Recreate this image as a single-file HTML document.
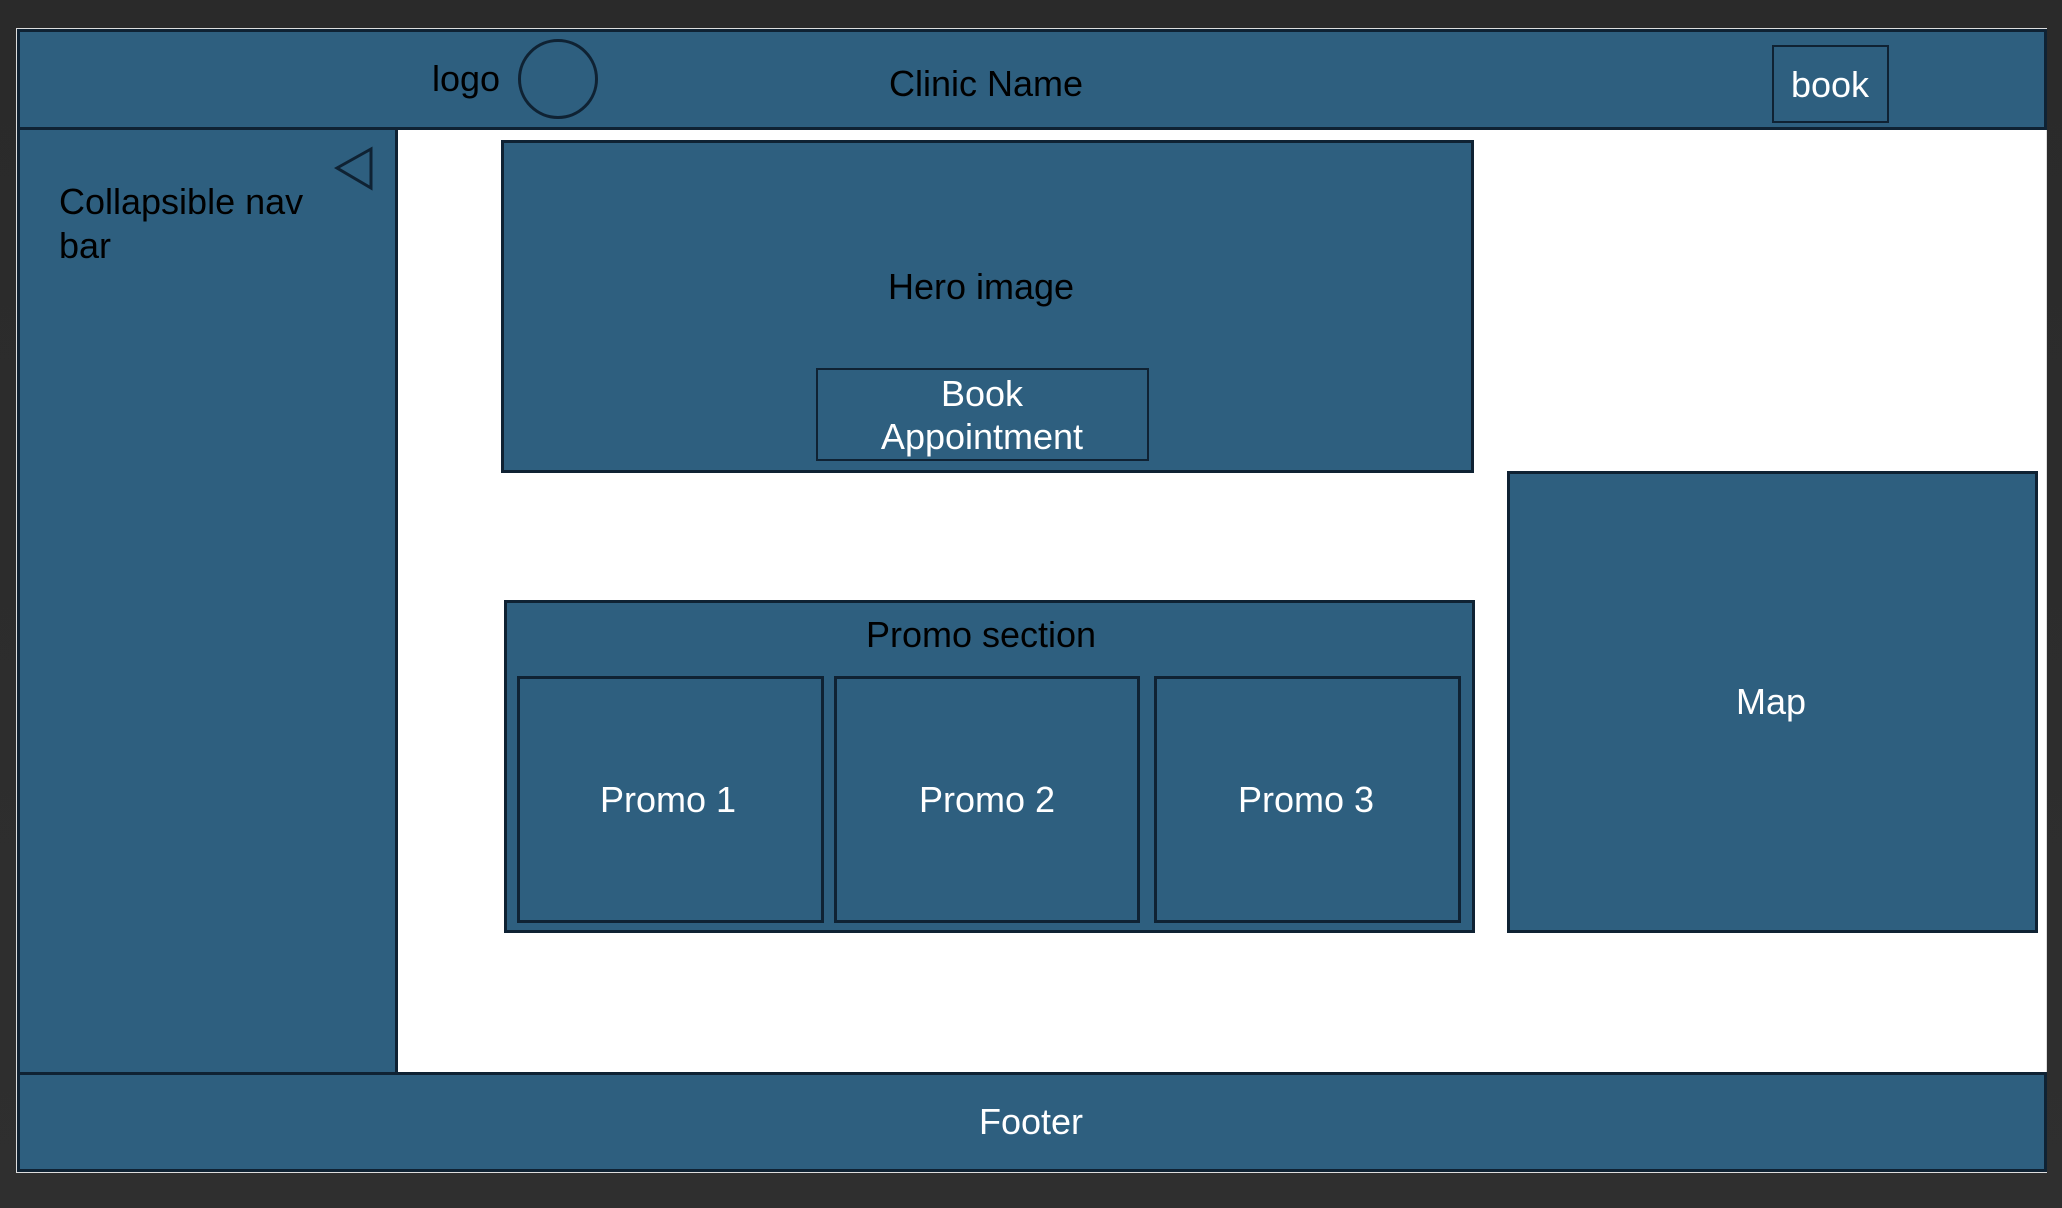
<!DOCTYPE html>
<html><head><meta charset="utf-8"><style>
html,body{margin:0;padding:0}
body{width:2062px;height:1208px;background:linear-gradient(#2a2a2a,#2f2f2f);position:relative;overflow:hidden;font-family:"Liberation Sans",sans-serif}
.b{position:absolute;background:#2e5f7f;border:3px solid #0f2233;box-sizing:border-box}
.t{position:absolute;font-size:36px;white-space:nowrap;transform:translate(-50%,-50%);text-align:center;line-height:44px}
.w{color:#fff}.k{color:#000}
</style></head><body>
<div style="position:absolute;left:16px;top:28px;width:2031px;height:1145px;background:#fff;border:1px solid #ddd;box-sizing:border-box"></div>
<div class="b" style="left:17px;top:29px;width:2030px;height:101px"></div>
<div class="b" style="left:17px;top:127px;width:381px;height:949px"></div>
<div class="b" style="left:17px;top:1072px;width:2030px;height:100px"></div>
<div class="t k" style="left:466px;top:79px">logo</div>
<div style="position:absolute;left:518px;top:39px;width:80px;height:80px;border:3px solid #0f2233;border-radius:50%;box-sizing:border-box"></div>
<div class="t k" style="left:986px;top:84px">Clinic Name</div>
<div class="b" style="left:1772px;top:45px;width:117px;height:78px;border-width:2px"></div>
<div class="t w" style="left:1830px;top:85px">book</div>
<svg style="position:absolute;left:330px;top:143px" width="50" height="52"><polygon points="7,25 41,6 41,45" fill="none" stroke="#0f2233" stroke-width="3"/></svg>
<div class="k" style="position:absolute;left:59px;top:180px;font-size:36px;line-height:44px">Collapsible nav<br>bar</div>
<div class="b" style="left:501px;top:140px;width:973px;height:333px"></div>
<div class="t k" style="left:981px;top:287px">Hero image</div>
<div class="b" style="left:816px;top:368px;width:333px;height:93px;border-width:2px"></div>
<div class="t w" style="left:982px;top:415px;line-height:43px">Book<br>Appointment</div>
<div class="b" style="left:504px;top:600px;width:971px;height:333px"></div>
<div class="t k" style="left:981px;top:635px">Promo section</div>
<div class="b" style="left:517px;top:676px;width:307px;height:247px"></div>
<div class="t w" style="left:668px;top:800px">Promo 1</div>
<div class="b" style="left:834px;top:676px;width:306px;height:247px"></div>
<div class="t w" style="left:987px;top:800px">Promo 2</div>
<div class="b" style="left:1154px;top:676px;width:307px;height:247px"></div>
<div class="t w" style="left:1306px;top:800px">Promo 3</div>
<div class="b" style="left:1507px;top:471px;width:531px;height:462px"></div>
<div class="t w" style="left:1771px;top:702px">Map</div>
<div class="t w" style="left:1031px;top:1122px">Footer</div>
</body></html>
